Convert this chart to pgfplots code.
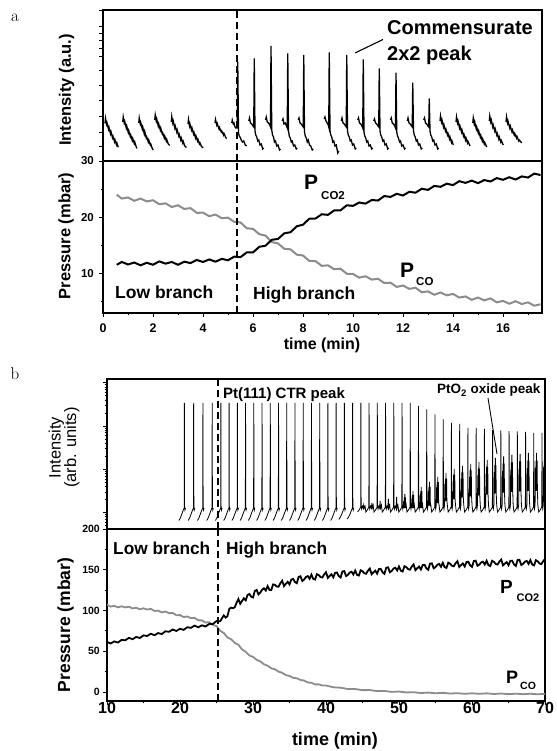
\documentclass[border=0pt]{standalone}
\usepackage{fontspec}
\usepackage{pgfplots}
\pgfplotsset{compat=1.18}
\newfontfamily\arial{Liberation Sans}
\definecolor{pgray}{RGB}{140,140,140}
\newcommand{\fs}[1]{\fontsize{#1}{#1}\selectfont}
\pgfplotsset{
  myax/.style={scale only axis, axis line style={line width=1.2pt},
    tick style={line width=0.9pt, black}, major tick length=4pt, minor tick length=2.5pt,
    tick align=outside, xtick pos=left, ytick pos=left, clip=true,
    unbounded coords=jump, /pgf/number format/assume math mode=true},
  dashv/.style={black, line width=1.3pt, dash pattern=on 7pt off 4pt},
}
\begin{document}
\begin{tikzpicture}
\useasboundingbox (0pt,0pt) rectangle (556pt,751pt);

% ---------------- Panel a : intensity ----------------
\begin{axis}[myax, at={(103pt,590pt)}, anchor=south west, width=439pt, height=151pt,
  xmin=0, xmax=17.56, ymin=0, ymax=151, xtick=\empty,
  ytick={0,14.3,29,44.3,61,76,91,104.3,112.3,120.3,127.3,134.7,151}, yticklabels={}]
\addplot[black, line width=1.3pt] coordinates {
(0.08,37.7)(0.10,42.7)(0.14,36.7)(0.16,38.2)(0.22,31.7)(0.24,33.7)(0.30,27.2)(0.32,29.2)(0.38,23.2)(0.40,24.7)(0.46,19.2)(0.48,21.2)(0.54,16.2)(0.56,17.7)(0.61,13.7)(0.7,nan)
(0.79,39)(0.81,44)(0.85,38)(0.87,39.5)(0.93,33)(0.95,35)(1.01,28.5)(1.03,30.5)(1.09,24.5)(1.11,26)(1.17,20.5)(1.19,22.5)(1.25,17.5)(1.27,19)(1.33,14)(1.36,12.5)(1.4,nan)
(1.43,38)(1.45,43)(1.49,37)(1.51,38.5)(1.57,32)(1.59,34)(1.65,27)(1.67,29.5)(1.73,23)(1.75,24)(1.81,19)(1.83,21)(1.89,16)(1.91,17)(1.97,12.5)(2.01,11)(2.04,nan)
(2.07,41)(2.09,46)(2.13,40)(2.15,42)(2.21,35)(2.23,37)(2.29,31)(2.31,33)(2.37,27)(2.39,28)(2.45,23)(2.47,25)(2.53,20)(2.55,21.5)(2.61,17)(2.67,15.5)(2.7,nan)
(2.73,39)(2.75,44.5)(2.79,38)(2.81,40)(2.87,33)(2.89,35)(2.95,29)(2.97,31)(3.03,25)(3.05,26.5)(3.11,21)(3.13,23)(3.19,18)(3.21,19.5)(3.27,15)(3.34,13.5)(3.37,nan)
(3.40,37)(3.42,41.5)(3.46,35)(3.48,37)(3.54,31)(3.56,33)(3.62,27)(3.64,28.5)(3.70,23)(3.72,25)(3.78,20)(3.80,21.5)(3.86,17)(3.88,18)(3.94,14.5)(4.01,13)(4.2,nan)
(4.48,38)(4.50,41.5)(4.55,36)(4.57,37.5)(4.64,32)(4.66,33.5)(4.73,29)(4.75,30)(4.82,26)(4.84,27.5)(4.92,23)(4.95,22.5)(5.05,nan)
(5.15,38)(5.17,41)(5.21,37)(5.24,38)(5.28,34)(5.31,33)(5.37,33)(5.39,99.3)(5.42,28)(5.45,25)(5.48,24)(5.53,21)(5.58,19)(5.63,20)(5.69,16)(5.75,15)(5.8,nan)
(5.83,40)(5.86,43)(5.90,38)(5.95,37)(6.00,35)(6.03,34)(6.05,102.7)(6.08,30)(6.11,26)(6.15,24)(6.19,20)(6.23,21)(6.28,16)(6.33,17)(6.39,12)(6.43,13)(6.46,nan)
(6.50,41)(6.53,44)(6.57,39)(6.62,38)(6.67,36)(6.70,34)(6.72,115)(6.75,31)(6.78,26)(6.82,24)(6.86,19)(6.90,20)(6.95,15)(7.00,16)(7.06,11)(7.10,12)(7.13,nan)
(7.17,40)(7.20,42)(7.24,37)(7.29,38)(7.34,35)(7.37,33)(7.39,107.7)(7.42,30)(7.45,25)(7.49,23)(7.53,19)(7.57,20)(7.62,15)(7.67,16)(7.73,12)(7.77,13)(7.79,nan)
(7.81,41)(7.84,43)(7.88,38)(7.93,37)(7.98,35)(8.01,34)(8.03,106)(8.06,29)(8.09,25)(8.13,23)(8.17,19)(8.21,21)(8.26,16)(8.31,15)(8.37,11)(8.41,12)(8.6,nan)
(8.85,42)(8.88,44)(8.92,40)(8.97,38)(9.01,36)(9.03,34)(9.05,108.7)(9.08,30)(9.11,26)(9.15,24)(9.19,19)(9.23,20)(9.28,15)(9.33,16)(9.39,8)(9.43,10)(9.48,nan)
(9.53,40)(9.56,43)(9.60,38)(9.65,37)(9.70,35)(9.73,34)(9.75,106)(9.78,30)(9.81,26)(9.85,24)(9.89,20)(9.93,21)(9.98,16)(10.03,17)(10.09,12)(10.13,13)(10.16,nan)
(10.19,41)(10.22,43)(10.26,38)(10.31,37)(10.36,35)(10.39,33)(10.41,101.7)(10.44,29)(10.47,25)(10.51,23)(10.55,19)(10.59,20)(10.64,15)(10.69,16)(10.75,12)(10.79,13)(10.81,nan)
(10.83,40)(10.86,42)(10.90,38)(10.95,37)(11.00,35)(11.03,34)(11.05,92.7)(11.08,30)(11.11,26)(11.15,24)(11.19,20)(11.23,21)(11.28,16)(11.33,17)(11.39,12)(11.43,13)(11.47,nan)
(11.50,41)(11.53,43)(11.57,38)(11.62,37)(11.67,35)(11.70,33)(11.72,88.3)(11.75,29)(11.78,25)(11.82,23)(11.86,19)(11.90,20)(11.95,15)(12.00,16)(12.06,12)(12.10,13)(12.13,nan)
(12.17,40)(12.20,43)(12.24,38)(12.29,37)(12.34,35)(12.37,34)(12.39,78.3)(12.42,30)(12.45,26)(12.49,24)(12.53,20)(12.57,21)(12.62,16)(12.67,17)(12.73,12)(12.77,13)(12.80,nan)
(12.83,41)(12.86,43)(12.90,38)(12.95,37)(13.00,35)(13.03,34)(13.05,62.7)(13.08,30)(13.11,26)(13.15,24)(13.19,20)(13.23,21)(13.28,16)(13.33,17)(13.39,12)(13.43,13)(13.45,nan)
(13.48,40)(13.50,45)(13.54,39)(13.56,41)(13.62,34)(13.64,36)(13.70,30)(13.72,31.5)(13.78,26)(13.80,27.5)(13.86,22)(13.88,24)(13.94,18.5)(13.96,20)(14.01,16)(14.06,nan)
(14.12,39)(14.14,44)(14.18,38)(14.20,40)(14.26,33)(14.28,35)(14.34,29)(14.36,31)(14.42,25)(14.44,26.5)(14.50,21)(14.52,23)(14.58,18)(14.60,19.5)(14.68,15)(14.73,nan)
(14.79,38)(14.81,43)(14.85,37)(14.87,39)(14.93,32)(14.95,34)(15.01,28)(15.03,30)(15.09,24)(15.11,25.5)(15.17,20)(15.19,22)(15.25,17)(15.27,18.5)(15.35,14)(15.40,nan)
(15.45,40)(15.47,45)(15.51,39)(15.53,41)(15.59,34)(15.61,36)(15.67,30)(15.69,32)(15.75,26)(15.77,27.5)(15.83,22)(15.85,24)(15.91,19)(15.93,20.5)(16.01,16)(16.06,nan)
(16.12,39)(16.14,44)(16.18,38)(16.20,40)(16.27,33)(16.29,35)(16.36,29)(16.38,31)(16.45,26)(16.47,27.5)(16.54,23)(16.56,24.5)(16.63,20)(16.65,21)(16.75,18)
};
\addplot[dashv] coordinates {(5.36,0) (5.36,151)};
\end{axis}

% ---------------- Panel a : pressure ----------------
\begin{axis}[myax, at={(103pt,438pt)}, anchor=south west, width=439pt, height=152pt,
  xmin=0, xmax=17.56, ymin=2.9, ymax=30,
  xtick={0,2,...,16}, minor xtick={1,3,...,17}, ytick={10,20,30}, minor ytick={5,15,25},
  xticklabel style={font=\arial\bfseries\fs{12.5}, inner sep=1pt, yshift=-5.5pt},
  yticklabel style={font=\arial\bfseries\fs{11.5}, inner sep=1pt, xshift=-4pt}]
\addplot[pgray, line width=2pt] coordinates {
(0.55,24.0)(0.75,23.3)(1.0,23.5)(1.25,22.9)(1.5,23.3)(1.75,22.8)(2.0,23.0)(2.25,22.3)(2.5,22.45)(2.75,21.8)(3.0,22.1)(3.25,21.45)(3.5,21.6)(3.75,20.75)(4.0,20.8)(4.25,20.15)(4.5,20.45)(4.75,19.8)(5.0,19.9)(5.25,19.15)(5.5,19.05)(5.75,18.0)(6.0,17.9)(6.25,16.95)(6.5,16.7)(6.75,15.55)(7.0,15.3)(7.25,14.35)(7.5,14.25)(7.75,13.3)(8.0,13.15)(8.25,12.2)(8.5,12.15)(8.75,11.3)(9.0,11.4)(9.25,10.7)(9.5,10.8)(9.75,9.9)(10.0,9.85)(10.25,9.2)(10.5,9.45)(10.75,8.85)(11.0,9.0)(11.25,8.25)(11.5,8.3)(11.75,7.55)(12.0,7.8)(12.25,7.2)(12.5,7.4)(12.75,6.6)(13.0,6.75)(13.25,6.15)(13.5,6.55)(13.75,6.05)(14.0,6.3)(14.25,5.65)(14.5,5.85)(14.75,5.25)(15.0,5.65)(15.25,5.15)(15.5,5.5)(15.75,4.8)(16.0,5.05)(16.25,4.55)(16.5,5.0)(16.75,4.5)(17.0,4.8)(17.25,4.2)(17.5,4.45)
};
\addplot[black, line width=2pt] coordinates {
(0.55,11.5)(0.75,12.0)(1.0,11.55)(1.25,11.9)(1.5,11.4)(1.75,11.85)(2.0,11.5)(2.25,12.1)(2.5,11.7)(2.75,12.0)(3.0,11.5)(3.25,12.05)(3.5,11.8)(3.75,12.35)(4.0,12.0)(4.25,12.45)(4.5,12.05)(4.75,12.55)(5.0,12.3)(5.25,12.95)(5.5,12.85)(5.75,13.7)(6.0,13.7)(6.25,14.7)(6.5,14.9)(6.75,15.95)(7.0,16.1)(7.25,17.1)(7.5,17.3)(7.75,18.35)(8.0,18.65)(8.25,19.7)(8.5,19.75)(8.75,20.5)(9.0,20.4)(9.25,21.2)(9.5,21.2)(9.75,22.1)(10.0,22.0)(10.25,22.6)(10.5,22.4)(10.75,23.05)(11.0,22.95)(11.25,23.75)(11.5,23.6)(11.75,24.15)(12.0,23.85)(12.25,24.5)(12.5,24.35)(12.75,25.05)(13.0,24.85)(13.25,25.55)(13.5,25.4)(13.75,25.95)(14.0,25.7)(14.25,26.4)(14.5,26.1)(14.75,26.5)(15.0,26.05)(15.25,26.6)(15.5,26.35)(15.75,26.95)(16.0,26.65)(16.25,27.1)(16.5,26.7)(16.75,27.25)(17.0,27.05)(17.25,27.75)(17.5,27.5)
};
\addplot[dashv] coordinates {(5.36,2.9) (5.36,30)};
\end{axis}

% ---------------- Panel b : intensity ----------------
\begin{axis}[myax, at={(107pt,222pt)}, anchor=south west, width=438pt, height=150pt,
  xmin=10, xmax=70, ymin=0, ymax=150, xtick=\empty,
  ytick={16.3,59.6,102.9,146.2}, yticklabels={},
  minor ytick={3.3,6.7,9.6,12.1,14.3,29.3,37.0,42.4,46.6,50.0,52.9,55.4,57.6,72.6,80.3,85.7,89.9,93.3,96.2,98.7,100.9,115.9,123.6,129.0,133.2,136.6,139.5,142.0,144.2}]
\addplot[black, line width=0.8pt] coordinates {
(19.85,8.5)(20.05,11)(20.25,15)(20.45,19)(20.57,21)(20.60,126)(20.63,22)(20.68,19)(20.75,21)(20.9,nan)
(21.12,8.5)(21.32,11)(21.52,15)(21.72,19)(21.84,21)(21.87,126)(21.90,22)(21.95,19)(22.02,21)(22.2,nan)
(22.39,8.5)(22.59,11)(22.79,15)(22.99,19)(23.11,21)(23.14,126)(23.17,22)(23.22,19)(23.29,21)(23.5,nan)
(23.66,8.5)(23.86,11)(24.06,15)(24.26,19)(24.38,21)(24.41,126)(24.44,22)(24.49,19)(24.56,21)(24.7,nan)
(24.85,8.5)(25.05,11)(25.25,15)(25.45,19)(25.57,21)(25.60,126)(25.63,22)(25.68,19)(25.75,21)(25.9,nan)
(25.98,8.5)(26.18,11)(26.38,15)(26.58,19)(26.70,21)(26.73,126)(26.76,22)(26.81,19)(26.88,21)(27.0,nan)
(27.11,8.5)(27.31,11)(27.51,15)(27.71,19)(27.83,21)(27.86,126)(27.89,22)(27.94,19)(28.01,21)(28.1,nan)
(28.23,8.5)(28.43,11)(28.63,15)(28.83,19)(28.95,21)(28.98,126)(29.01,22)(29.06,19)(29.13,21)(29.2,nan)
(29.36,8.5)(29.56,11)(29.76,15)(29.96,19)(30.08,21)(30.11,126)(30.14,22)(30.19,19)(30.26,21)(30.4,nan)
(30.49,8.5)(30.69,11)(30.89,15)(31.09,19)(31.21,21)(31.24,126)(31.27,22)(31.32,19)(31.39,21)(31.5,nan)
(31.62,8.5)(31.82,11)(32.02,15)(32.22,19)(32.34,21)(32.37,126)(32.40,22)(32.45,19)(32.52,21)(32.6,nan)
(32.75,8.5)(32.95,11)(33.15,15)(33.35,19)(33.47,21)(33.50,126)(33.53,22)(33.58,19)(33.65,21)(33.7,nan)
(33.87,8.5)(34.07,11)(34.27,15)(34.47,19)(34.59,21)(34.62,126)(34.65,22)(34.70,19)(34.77,21)(34.9,nan)
(35.00,8.5)(35.20,11)(35.40,15)(35.60,19)(35.72,21)(35.75,126)(35.78,22)(35.83,19)(35.90,21)(36.0,nan)
(36.13,8.5)(36.33,11)(36.53,15)(36.73,19)(36.85,21)(36.88,126)(36.91,22)(36.96,19)(37.03,21)(37.1,nan)
(37.26,8.5)(37.46,11)(37.66,15)(37.86,19)(37.98,21)(38.01,126)(38.04,22)(38.09,19)(38.16,21)(38.3,nan)
(38.39,8.5)(38.59,11)(38.79,15)(38.99,19)(39.11,21)(39.14,126)(39.17,22)(39.22,19)(39.29,21)(39.4,nan)
(39.51,8.5)(39.71,11)(39.91,15)(40.11,19)(40.23,21)(40.26,126)(40.29,22)(40.34,19)(40.41,21)(40.5,nan)
(40.64,8.5)(40.84,11)(41.04,15)(41.24,19)(41.36,21)(41.39,126)(41.42,22)(41.47,19)(41.54,21)(41.6,nan)
(41.77,9.5)(41.97,12)(42.17,15)(42.37,19)(42.49,21)(42.52,126)(42.55,22)(42.60,19)(42.67,21)(42.8,nan)
(42.90,10)(43.10,12)(43.30,15)(43.50,19)(43.62,21)(43.65,126)(43.68,22)(43.73,19)(43.80,21)(44.0,nan)
(44.33,17)(44.53,19)(44.68,21)(44.75,22)(44.78,126)(44.81,23)(44.88,20)(44.98,23)(45.06,22)(45.10,21)(45.16,24)(45.22,21)(45.26,22)(45.34,23)(45.42,19)
(45.45,17)(45.65,19)(45.80,21)(45.87,22)(45.90,126)(45.93,23)(46.00,20)(46.10,23)(46.18,22)(46.22,21)(46.28,26)(46.34,21)(46.38,22)(46.46,24)(46.54,19)
(46.58,17)(46.78,19)(46.93,21)(47.00,22)(47.03,126)(47.06,23)(47.13,20)(47.23,23)(47.31,22)(47.35,21)(47.41,28)(47.47,21)(47.51,22)(47.59,24)(47.67,19)
(47.71,17)(47.91,19)(48.06,21)(48.13,22)(48.16,126)(48.19,23)(48.26,20)(48.36,23)(48.44,22)(48.48,21)(48.54,30)(48.60,21)(48.64,22)(48.72,24)(48.80,19)
(48.84,17)(49.04,19)(49.19,21)(49.26,22)(49.29,126)(49.32,23)(49.39,20)(49.49,23)(49.57,22.4)(49.61,21)(49.67,32)(49.73,21)(49.77,22.4)(49.85,24)(49.93,19)
(49.97,17)(50.17,19)(50.32,21)(50.39,22)(50.42,126)(50.45,23)(50.52,20)(50.60,24)(50.64,28)(50.68,21)(50.72,31.5)(50.76,21)(50.80,35)(50.84,21)(50.88,31.5)(50.92,21)(50.98,24)(51.06,19)
(51.09,17)(51.29,19)(51.44,21)(51.51,22)(51.54,126)(51.57,23)(51.64,20)(51.72,24)(51.76,30.4)(51.80,21)(51.84,34.2)(51.88,21)(51.92,38)(51.96,21)(52.00,34.2)(52.04,21)(52.10,24)(52.18,19)
(52.22,17)(52.42,19)(52.57,21)(52.64,22)(52.67,123)(52.70,23)(52.77,20)(52.85,24)(52.89,33.6)(52.93,21)(52.97,37.8)(53.01,21)(53.05,42)(53.09,21)(53.13,37.8)(53.17,21)(53.23,24)(53.31,19)
(53.35,17)(53.55,19)(53.70,21)(53.77,22)(53.80,119.7)(53.83,23)(53.90,20)(53.98,24)(54.02,37.6)(54.06,23.5)(54.10,42.3)(54.14,23.5)(54.18,47)(54.22,23.5)(54.26,42.3)(54.30,23.5)(54.36,24)(54.44,19)
(54.48,17)(54.68,19)(54.83,21)(54.90,22)(54.93,114.6)(54.96,23)(55.03,20)(55.11,24)(55.15,41.6)(55.19,26)(55.23,46.8)(55.27,26)(55.31,52)(55.35,26)(55.39,46.8)(55.43,26)(55.49,24)(55.57,19)
(55.61,17)(55.81,19)(55.96,21)(56.03,22)(56.06,109.6)(56.09,23)(56.16,20)(56.24,24)(56.28,44.8)(56.32,28)(56.36,50.4)(56.40,28)(56.44,56)(56.48,28)(56.52,50.4)(56.56,28)(56.62,24)(56.70,19)
(56.73,17)(56.93,19)(57.08,21)(57.15,22)(57.18,106.2)(57.21,23)(57.28,20)(57.36,24)(57.40,48)(57.44,30)(57.48,54)(57.52,30)(57.56,60)(57.60,30)(57.64,54)(57.68,30)(57.74,24)(57.82,19)
(57.86,17)(58.06,19)(58.21,21)(58.28,22)(58.31,105)(58.34,23)(58.41,20)(58.49,24)(58.53,50.4)(58.57,31.5)(58.61,56.7)(58.65,31.5)(58.69,63)(58.73,31.5)(58.77,56.7)(58.81,31.5)(58.87,24)(58.95,19)
(58.99,17)(59.19,19)(59.34,21)(59.41,22)(59.44,101)(59.47,23)(59.54,20)(59.62,24)(59.66,52)(59.70,32.5)(59.74,58.5)(59.78,32.5)(59.82,65)(59.86,32.5)(59.90,58.5)(59.94,32.5)(60.00,24)(60.08,19)
(60.12,17)(60.32,19)(60.47,21)(60.54,22)(60.57,101)(60.60,23)(60.67,20)(60.75,24)(60.79,53.6)(60.83,33.5)(60.87,60.3)(60.91,33.5)(60.95,67)(60.99,33.5)(61.03,60.3)(61.07,33.5)(61.13,24)(61.21,19)
(61.25,17)(61.45,19)(61.60,21)(61.67,22)(61.70,100)(61.73,23)(61.80,20)(61.88,24)(61.92,55.2)(61.96,34.5)(62.00,62.1)(62.04,34.5)(62.08,69)(62.12,34.5)(62.16,62.1)(62.20,34.5)(62.26,24)(62.34,19)
(62.37,17)(62.57,19)(62.72,21)(62.79,22)(62.82,98.8)(62.85,23)(62.92,20)(63.00,24)(63.04,56.8)(63.08,35.5)(63.12,63.9)(63.16,35.5)(63.20,71)(63.24,35.5)(63.28,63.9)(63.32,35.5)(63.38,24)(63.46,19)
(63.50,17)(63.70,19)(63.85,21)(63.92,22)(63.95,98.5)(63.98,23)(64.05,20)(64.13,24)(64.17,58)(64.21,36.3)(64.25,65.3)(64.29,36.3)(64.33,72.5)(64.37,36.3)(64.41,65.3)(64.45,36.3)(64.51,24)(64.59,19)
(64.63,17)(64.83,19)(64.98,21)(65.05,22)(65.08,97.8)(65.11,23)(65.18,20)(65.26,24)(65.30,59.2)(65.34,37)(65.38,66.6)(65.42,37)(65.46,74)(65.50,37)(65.54,66.6)(65.58,37)(65.64,24)(65.72,19)
(65.76,17)(65.96,19)(66.11,21)(66.18,22)(66.21,97.5)(66.24,23)(66.31,20)(66.39,24)(66.43,60)(66.47,37.5)(66.51,67.5)(66.55,37.5)(66.59,75)(66.63,37.5)(66.67,67.5)(66.71,37.5)(66.77,24)(66.85,19)
(66.89,17)(67.09,19)(67.24,21)(67.31,22)(67.34,97)(67.37,23)(67.44,20)(67.52,24)(67.56,60.8)(67.60,38)(67.64,68.4)(67.68,38)(67.72,76)(67.76,38)(67.80,68.4)(67.84,38)(67.90,24)(67.98,19)
(68.01,17)(68.21,19)(68.36,21)(68.43,22)(68.46,96.2)(68.49,23)(68.56,20)(68.64,24)(68.68,60.8)(68.72,38)(68.76,68.4)(68.80,38)(68.84,76)(68.88,38)(68.92,68.4)(68.96,38)(69.02,24)(69.10,19)
(69.14,17)(69.34,19)(69.49,21)(69.56,22)(69.59,96)(69.62,23)(69.69,20)(69.77,24)(69.81,61.6)(69.85,38.5)(69.89,69.3)(69.93,38.5)(69.97,77)(70.01,38.5)
};
\addplot[dashv] coordinates {(25.2,0) (25.2,150)};
\end{axis}

% ---------------- Panel b : pressure ----------------
\begin{axis}[myax, at={(107pt,50pt)}, anchor=south west, width=438pt, height=172pt,
  xmin=10, xmax=70, ymin=-11, ymax=200,
  xtick={10,20,...,70}, minor xtick={15,25,...,65}, ytick={0,50,...,200}, minor ytick={25,75,125,175},
  xticklabel style={font=\arial\bfseries\fs{16}, inner sep=1pt, yshift=4pt},
  yticklabel style={font=\arial\bfseries\fs{10.5}, inner sep=1pt, xshift=-2pt}]
\addplot[pgray, line width=1.8pt] coordinates {
(10.0,107)(10.5,104.8)(11.0,105.65)(11.5,103.9)(12.0,105.2)(12.5,103.8)(13.0,104.75)(13.5,102.6)(14.0,103.4)(14.5,101.5)(15.0,102.7)(15.5,101.2)(16.0,102)(16.5,99.45)(17.0,99.9)(17.5,97.75)(18.0,98.7)(18.5,96.7)(19.0,97)(19.5,94.2)(20.0,94.4)(20.5,92)(21.0,92.7)(21.5,90.7)(22.0,91)(22.5,87.95)(23.0,87.9)(23.5,85.25)(24.0,85.7)(24.5,82.2)(25.0,81)(25.5,75.2)(26.0,72.4)(26.5,67)(27.0,64.7)(27.5,60.2)(28.0,58)(28.5,52.2)(29.0,49.4)(29.5,44.75)(30.0,43.2)(30.5,39.45)(31.0,37.6)(31.5,34)(32.0,32.3)(32.5,29.15)(33.0,27.9)(33.5,25.05)(34.0,23.6)(34.5,20.75)(35.0,19.8)(35.5,17.4)(36.0,16.9)(36.5,14.8)(37.0,14.1)(37.5,11.75)(38.0,11.3)(38.5,9.4)(39.0,9.4)(39.5,8.05)(40.0,8.0)(41.0,5.8)(42.0,5.3)(43.0,3.7)(44.0,3.7)(45.0,2.3)(46.0,2.4)(47.0,1.1)(48.0,1.3)(49.0,0.2)(50.0,0.6)(51.0,-0.5)(52.0,-0.2)(53.0,-1.2)(54.0,-0.7)(55.0,-1.5)(56.0,-1.0)(57.0,-1.85)(58.0,-1.4)(59.0,-2.2)(60.0,-1.55)(61.0,-2.2)(62.0,-1.6)(63.0,-2.4)(64.0,-1.85)(65.0,-2.6)(66.0,-2.0)(67.0,-2.65)(68.0,-2.1)(69.0,-2.75)(70.0,-2.2)
};
\addplot[black, line width=1.8pt] coordinates {
(10.0,61.5)(10.5,59.55)(11.0,62.1)(11.5,60.75)(12.0,64.0)(12.5,63.5)(13.0,66.5)(13.5,64.8)(14.0,67.6)(14.5,66.25)(15.0,69.5)(15.5,68.75)(16.0,71.5)(16.5,69.7)(17.0,72.35)(17.5,71.1)(18.0,74.5)(18.5,73.9)(19.0,76.75)(19.5,74.9)(20.0,77.6)(20.5,76.25)(21.0,79.5)(21.5,78.75)(22.0,81.5)(22.5,79.4)(23.0,81.85)(23.5,80.4)(24.0,83.5)(24.5,83.5)(25.0,87)(25.5,86.8)(25.75,90.5)
(26.0,94)(26.25,91.35)(26.5,93)(26.75,102.05)(27.0,103.5)(27.25,102.8)(27.5,104)(27.75,109.6)(28.0,114)(28.25,108.2)(28.5,111.75)(28.75,114.9)(29.0,112.5)(29.25,119.0)(29.5,120.25)(29.75,116.9)
(30.0,116)(30.25,124.1)(30.5,125.25)(30.75,119.8)(31.0,122)(31.25,125.6)(31.5,127.25)(31.75,124.5)(32.0,130)(32.25,125.35)(32.5,125)(32.75,132.05)(33.0,131.5)(33.25,129.4)(33.5,129.25)(33.75,133.5)
(34.0,136.5)(34.25,129.9)(34.5,132.75)(34.75,135.2)(35.0,132)(35.25,138.0)(35.5,138.75)(35.75,134.9)(36.0,133.5)(36.25,141.2)(36.5,142)(36.75,136.2)(37.0,138)(37.25,141.1)(37.5,142.25)(37.75,139.0)
(38.0,144)(38.25,138.85)(38.5,138)(38.75,144.55)(39.0,143.5)(39.25,141.05)(39.5,140.5)(39.75,144.35)(40.0,147)(40.25,140.0)(40.5,142.4)(40.75,144.4)(41.0,140.75)(41.25,146.3)(41.5,146.6)(41.75,142.3)
(42.0,140.5)(42.25,147.9)(42.5,148.4)(42.75,142.3)(43.0,143.75)(43.25,146.6)(43.5,147.6)(43.75,144.2)(44.0,149)(44.25,143.8)(44.5,142.9)(44.75,149.4)(45.0,148.25)(45.25,145.7)(45.5,145.1)(45.75,148.9)
(46.0,151.5)(46.25,144.5)(46.5,146.9)(46.75,148.9)(47.0,145.25)(47.25,150.8)(47.5,151.1)(47.75,146.8)(48.0,145)(48.25,152.45)(48.5,153)(48.75,146.95)(49.0,148.5)(49.25,151.45)(49.5,152.5)(49.75,149.15)
(50.0,154)(50.25,148.8)(50.5,147.9)(50.75,154.4)(51.0,153.25)(51.25,150.7)(51.5,150.1)(51.75,153.9)(52.0,156.5)(52.25,149.5)(52.5,151.9)(52.75,153.9)(53.0,150.25)(53.25,155.8)(53.5,156.1)(53.75,151.8)
(54.0,150)(54.25,157.4)(54.5,157.9)(54.75,151.8)(55.0,153.25)(55.25,156.1)(55.5,157.1)(55.75,153.7)(56.0,158.5)(56.25,153.2)(56.5,152.25)(56.75,158.7)(57.0,157.5)(57.25,154.9)(57.5,154.25)(57.75,158.0)
(58.0,160.5)(58.25,153.4)(58.5,155.75)(58.75,157.7)(59.0,154)(59.25,159.5)(59.5,159.75)(59.75,155.4)(60.0,153.5)(60.25,160.75)(60.5,161.1)(60.75,154.9)(61.0,156.25)(61.25,159.0)(61.5,159.9)(61.75,156.35)
(62.0,161)(62.25,155.65)(62.5,154.6)(62.75,161.0)(63.0,159.75)(63.25,157.1)(63.5,156.4)(63.75,160.05)(64.0,162.5)(64.25,155.3)(64.5,157.55)(64.75,159.4)(65.0,155.6)(65.25,161.0)(65.5,161.15)(65.75,156.7)
(66.0,154.7)(66.25,161.9)(66.5,162.2)(66.75,155.9)(67.0,157.25)(67.25,160.0)(67.5,160.8)(67.75,157.2)(68.0,161.8)(68.25,156.4)(68.5,155.35)(68.75,161.7)(69.0,160.4)(69.25,157.7)(69.5,156.95)(69.75,160.6)(70.0,163)
};
\addplot[dashv] coordinates {(25.2,-11) (25.2,200)};
\end{axis}

% ---------------- Text ----------------
\node[font=\fs{17}] at (15pt,733pt) {a};
\node[font=\fs{17}] at (15pt,377pt) {b};
% panel a
\node[font=\arial\bfseries\fs{16.5}, rotate=90] at (66.5pt,661pt) {Intensity (a.u.)};
\node[font=\arial\bfseries\fs{16.5}, rotate=90] at (66pt,515pt) {Pressure (mbar)};
\node[font=\arial\bfseries\fs{16}, inner sep=1pt] at (322pt,406pt) {time (min)};
\node[font=\arial\bfseries\fs{20}, anchor=base west, inner sep=0pt] at (387pt,716pt) {Commensurate};
\node[font=\arial\bfseries\fs{20}, anchor=base west, inner sep=0pt] at (387pt,690pt) {2x2 peak};
\draw[line width=1.1pt] (355pt,698pt) -- (383pt,711.5pt);
\node[font=\arial\bfseries\fs{21}, anchor=base west, inner sep=0pt] at (304pt,561.5pt) {P};
\node[font=\arial\bfseries\fs{11.5}, anchor=base west, inner sep=0pt] at (321pt,551.5pt) {CO2};
\node[font=\arial\bfseries\fs{21}, anchor=base west, inner sep=0pt] at (400pt,473.5pt) {P};
\node[font=\arial\bfseries\fs{11.5}, anchor=base west, inner sep=0pt] at (416pt,465pt) {CO};
\node[font=\arial\bfseries\fs{17.5}, anchor=base west, inner sep=0pt] at (115pt,452pt) {Low branch};
\node[font=\arial\bfseries\fs{17.5}, anchor=base west, inner sep=0pt] at (253pt,451pt) {High branch};
% panel b
\node[font=\arial\fs{16.5}, rotate=90, align=center] at (64pt,303.5pt) {Intensity\\[-1pt](arb. units)};
\node[font=\arial\bfseries\fs{17.5}, rotate=90] at (65.5pt,126pt) {Pressure (mbar)};
\node[font=\arial\bfseries\fs{18}] at (335pt,10pt) {time (min)};
\node[font=\arial\bfseries\fs{15}, anchor=base west, inner sep=0pt] at (223pt,352.5pt) {Pt(111) CTR peak};
\node[font=\arial\bfseries\fs{13.5}, anchor=base west, inner sep=0pt] at (437pt,357pt) {PtO\textsubscript{2} oxide peak};
\draw[line width=0.9pt] (488pt,353pt) -- (497pt,297pt);
\node[font=\arial\bfseries\fs{17.3}, anchor=base west, inner sep=0pt] at (113pt,196pt) {Low branch};
\node[font=\arial\bfseries\fs{17.3}, anchor=base west, inner sep=0pt] at (226pt,196pt) {High branch};
\node[font=\arial\bfseries\fs{19}, anchor=base west, inner sep=0pt] at (500pt,157.5pt) {P};
\node[font=\arial\bfseries\fs{11}, anchor=base west, inner sep=0pt] at (516.5pt,149pt) {CO2};
\node[font=\arial\bfseries\fs{18}, anchor=base west, inner sep=0pt] at (506pt,67.5pt) {P};
\node[font=\arial\bfseries\fs{10.5}, anchor=base west, inner sep=0pt] at (520pt,61pt) {CO};
\end{tikzpicture}
\end{document}
